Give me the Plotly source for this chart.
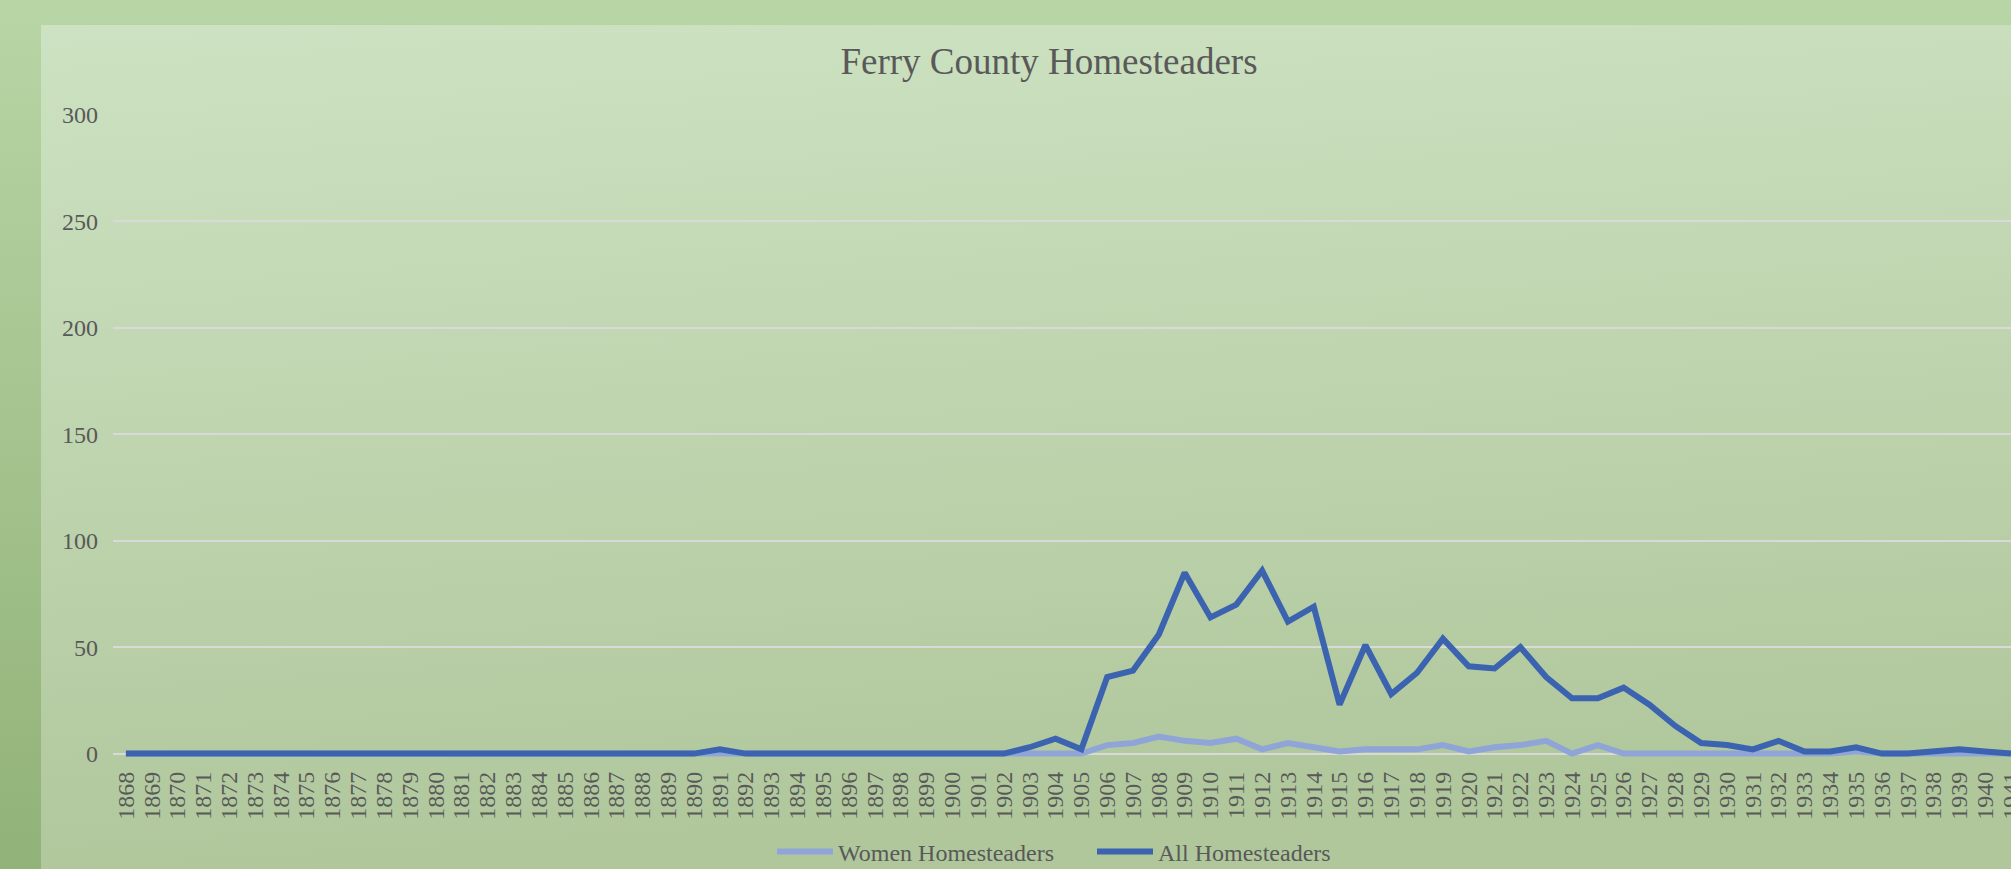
import base64
import plotly.graph_objects as go

years = [str(y) for y in range(1868, 1942)]

all_homesteaders = (
    [0] * 23 + [2] + [0] * 11 +
    [3, 7, 2, 36, 39, 56, 85, 64, 70, 86,
     62, 69, 23, 51, 28, 38, 54, 41, 40, 50,
     36, 26, 26, 31, 23, 13, 5, 4, 2, 6,
     1, 1, 3, 0, 0, 1, 2, 1, 0]
)

women_homesteaders = (
    [0] * 38 +
    [4, 5, 8, 6, 5, 7, 2, 5, 3, 1,
     2, 2, 2, 4, 1, 3, 4, 6, 0, 4,
     0, 0, 0, 0, 0, 0, 0, 0, 0, 1,
     0, 0, 0, 0, 0, 0]
)

y_ticks = [0, 50, 100, 150, 200, 250, 300]

W, H = 2011, 869
ML, MR, MT, MB = 113, 0, 115, 109
PW, PH = W - ML - MR, H - MT - MB

TEXT = "#595959"
FONT = "Liberation Serif, Times New Roman, serif"

svg = f'''<svg xmlns="http://www.w3.org/2000/svg" width="{W}" height="{H}" viewBox="0 0 {W} {H}" preserveAspectRatio="none">
<defs>
<linearGradient id="o" x1="0" y1="0" x2="0" y2="1"><stop offset="0" stop-color="#b8d5a5"/><stop offset="1" stop-color="#91b278"/></linearGradient>
<linearGradient id="i" x1="0" y1="0" x2="0.15" y2="1"><stop offset="0" stop-color="#cde2c2"/><stop offset="1" stop-color="#b0c79c"/></linearGradient>
</defs>
<rect width="{W}" height="{H}" fill="url(#o)"/>
<rect x="41" y="25" width="{W-41}" height="{H-25}" fill="url(#i)"/>
</svg>'''
src = "data:image/svg+xml;base64," + base64.b64encode(svg.encode()).decode()

fig = go.Figure()
fig.add_trace(go.Scatter(
    x=years, y=women_homesteaders, mode="lines", name="Women Homesteaders",
    line=dict(color="#8fa5d8", width=6),
))
fig.add_trace(go.Scatter(
    x=years, y=all_homesteaders, mode="lines", name="All Homesteaders",
    line=dict(color="#3b63b0", width=6),
))

fig.update_layout(
    width=W, height=H,
    margin=dict(l=ML, r=MR, t=MT, b=MB, autoexpand=False),
    paper_bgcolor="#b8d5a5",
    plot_bgcolor="rgba(0,0,0,0)",
    font=dict(family=FONT, color=TEXT, size=24),
    title=dict(
        text="Ferry County Homesteaders",
        font=dict(family=FONT, size=37, color=TEXT),
        x=(1049 - ML) / PW, xref="paper", xanchor="center",
        y=1 - 61 / H, yref="container", yanchor="middle",
    ),
    showlegend=True,
    legend=dict(
        orientation="h",
        x=(772 - ML) / PW, xanchor="left",
        y=-(852 - MT - PH) / PH, yanchor="middle",
        font=dict(family=FONT, size=24, color=TEXT),
        itemwidth=56,
        entrywidth=249, entrywidthmode="pixels",
        bgcolor="rgba(0,0,0,0)",
        traceorder="normal",
    ),
    images=[dict(
        source=src, xref="paper", yref="paper",
        x=-ML / PW, y=1 + MT / PH, sizex=W / PW, sizey=H / PH,
        xanchor="left", yanchor="top", sizing="stretch", layer="below",
    )],
)

fig.update_xaxes(
    type="category", range=[-0.5, 73.0],
    tickmode="linear", tick0=0, dtick=1,
    tickangle=-90, showgrid=False, zeroline=False, showline=False,
    ticks="", ticklabelstandoff=6,
    tickfont=dict(family=FONT, size=24, color=TEXT),
    automargin=False,
)
fig.update_yaxes(
    range=[-3, 300], tickmode="array", tickvals=y_ticks,
    showgrid=True, gridcolor="#d9d9d9", gridwidth=1.5,
    zeroline=False, showline=False, ticks="", ticklabelstandoff=14,
    tickfont=dict(family=FONT, size=24, color=TEXT),
    automargin=False,
)

fig.write_html(
    "out.html",
    config={"displayModeBar": False},
    post_script="document.body.style.margin='0';document.body.style.overflow='hidden';",
)
